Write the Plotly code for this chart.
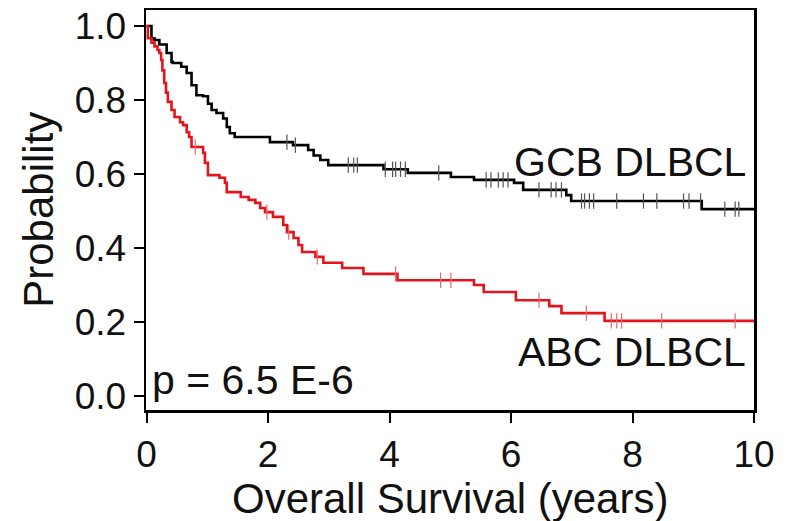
import plotly.graph_objects as go

# ---- data ----
gcb_times = [0, 0.08, 0.13, 0.21, 0.33, 0.41, 0.43, 0.57, 0.66, 0.74, 0.82, 0.93, 1.01, 1.07,
             1.15, 1.26, 1.32, 1.37, 1.45, 2.03, 2.41, 2.66, 2.75, 2.86, 2.99, 3.90, 4.30,
             5.01, 5.39, 6.05, 6.20, 6.91, 6.99, 9.14, 10.0]
gcb_surv = [1.0, 0.967, 0.962, 0.95, 0.927, 0.903, 0.90, 0.89, 0.873, 0.84, 0.813, 0.81, 0.79,
            0.773, 0.765, 0.75, 0.727, 0.71, 0.70, 0.686, 0.678, 0.665, 0.65, 0.638, 0.624,
            0.613, 0.603, 0.592, 0.584, 0.576, 0.557, 0.543, 0.527, 0.505, 0.505]
gcb_censor = [2.31, 2.45, 3.32, 3.41, 3.47, 3.93, 4.05, 4.10, 4.18, 4.26, 4.81, 5.59, 5.67,
              5.79, 5.87, 5.95, 6.46, 6.66, 6.74, 6.83, 7.16, 7.21, 7.29, 7.36, 7.74, 8.18,
              8.40, 8.84, 8.93, 9.12, 9.52, 9.69, 9.75]

abc_times = [0, 0.02, 0.08, 0.13, 0.18, 0.21, 0.24, 0.26, 0.29, 0.32, 0.35, 0.41, 0.46, 0.55,
             0.60, 0.66, 0.70, 0.74, 0.93, 0.96, 1.01, 1.20, 1.29, 1.32, 1.55, 1.68, 1.79,
             1.87, 1.95, 2.08, 2.25, 2.31, 2.42, 2.50, 2.56, 2.78, 2.91, 3.22, 3.57, 4.13,
             5.39, 5.55, 6.08, 6.63, 6.83, 7.54, 10.0]
abc_surv = [1.0, 0.967, 0.955, 0.945, 0.935, 0.927, 0.908, 0.88, 0.846, 0.82, 0.795, 0.773,
            0.754, 0.74, 0.732, 0.713, 0.70, 0.673, 0.657, 0.63, 0.597, 0.59, 0.576, 0.551,
            0.538, 0.53, 0.522, 0.508, 0.497, 0.484, 0.462, 0.443, 0.427, 0.408, 0.389,
            0.376, 0.36, 0.346, 0.33, 0.313, 0.30, 0.281, 0.259, 0.243, 0.224, 0.203, 0.203]
abc_censor = [0.80, 1.98, 2.34, 2.81, 4.10, 4.84, 5.01, 6.46, 7.24, 7.65, 7.74, 7.82, 8.48, 9.69]

x_ticks = [0, 2, 4, 6, 8, 10]
y_ticks = [0.0, 0.2, 0.4, 0.6, 0.8, 1.0]


def step_value(times, surv, t):
    v = surv[0]
    for ti, si in zip(times, surv):
        if ti <= t:
            v = si
        else:
            break
    return v


BLACK = "#000000"
RED = "#e3141c"

fig = go.Figure()
for times, surv, cens, col, ccol in [
    (gcb_times, gcb_surv, gcb_censor, BLACK, "#555555"),
    (abc_times, abc_surv, abc_censor, RED, "#e8686c"),
]:
    fig.add_trace(go.Scatter(x=times, y=surv, mode="lines", line_shape="hv",
                             line=dict(color=col, width=2.6), showlegend=False,
                             hoverinfo="skip"))
    fig.add_trace(go.Scatter(x=cens, y=[step_value(times, surv, c) for c in cens],
                             mode="markers",
                             marker=dict(symbol="line-ns-open", size=11, color=ccol,
                                         line=dict(color=ccol, width=1.2)),
                             showlegend=False, hoverinfo="skip"))

FONT = "Liberation Sans, Arial, sans-serif"
fig.add_annotation(x=9.9, y=0.632, text="GCB DLBCL", showarrow=False, xanchor="right",
                   yanchor="middle", font=dict(family=FONT, size=41, color="#111"))
fig.add_annotation(x=9.9, y=0.12, text="ABC DLBCL", showarrow=False, xanchor="right",
                   yanchor="middle", font=dict(family=FONT, size=41, color="#111"))
fig.add_annotation(x=0.06, y=0.042, text="p = 6.5 E-6", showarrow=False, xanchor="left",
                   yanchor="middle", font=dict(family=FONT, size=41, color="#111"))
# axis titles
fig.add_annotation(xref="paper", yref="paper", x=0.5, y=-0.22, text="Overall Survival (years)",
                   showarrow=False, xanchor="center", yanchor="middle",
                   font=dict(family=FONT, size=42, color="#111"))
fig.add_annotation(xref="paper", yref="paper", x=-0.178, y=0.5, text="Probability",
                   textangle=-90, showarrow=False, xanchor="center", yanchor="middle",
                   font=dict(family=FONT, size=42, color="#111"))

fig.update_layout(
    width=792, height=521,
    margin=dict(l=146, r=38, t=10, b=111),
    paper_bgcolor="white", plot_bgcolor="white",
    font=dict(family=FONT, color="#111"),
)
fig.update_xaxes(range=[-0.01, 10.0], tickvals=x_ticks, ticktext=[str(v) for v in x_ticks],
                 showgrid=False, zeroline=False, showline=True, linecolor="black",
                 linewidth=2.5, mirror=True, ticks="outside", ticklen=10, tickwidth=2,
                 tickcolor="black", tickfont=dict(size=37, family=FONT), automargin=False,
                 ticklabeloverflow="allow")
fig.update_yaxes(range=[-0.0378, 1.0432], tickvals=y_ticks,
                 ticktext=[f"{v:.1f}" for v in y_ticks],
                 showgrid=False, zeroline=False, showline=True, linecolor="black",
                 linewidth=2.5, mirror=True, ticks="outside", ticklen=10, tickwidth=2,
                 tickcolor="black", tickfont=dict(size=37, family=FONT), automargin=False,
                 ticklabeloverflow="allow")

# remove the browser's default 8px page margin so the figure fills the window exactly
fig.write_html("out.html",
               config={"displayModeBar": False, "staticPlot": True},
               post_script="document.body.style.margin='0';document.body.style.overflow='hidden';")
